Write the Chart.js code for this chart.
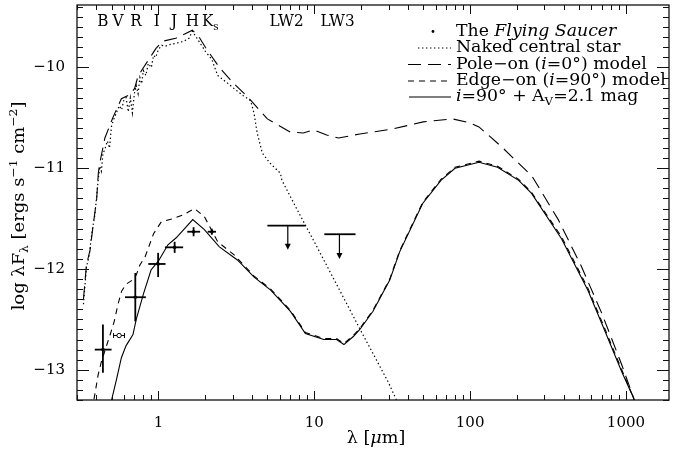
<!DOCTYPE html>
<html>
<head>
<meta charset="utf-8">
<script src="https://cdn.jsdelivr.net/npm/chart.js@4.4.1/dist/chart.umd.min.js"></script>
<style>
  html, body { margin: 0; padding: 0; background: #fff; }
  #wrap { width: 674px; height: 452px; }
</style>
</head>
<body>
<div id="wrap"><canvas id="sed" width="674" height="452"></canvas></div>
<script>
// wavelengths in micron, fluxes are log(lambda F_lambda)

// naked central star (dotted)
const starWave = [0.33, 0.345, 0.36, 0.375, 0.39, 0.40, 0.41, 0.42, 0.43, 0.44, 0.455, 0.47, 0.485, 0.50,
  0.52, 0.54, 0.56, 0.58, 0.60, 0.62, 0.64, 0.66, 0.68, 0.70, 0.72, 0.74, 0.76, 0.78, 0.80, 0.83, 0.86,
  0.90, 0.93, 0.96, 1.00, 1.05, 1.10, 1.20, 1.30, 1.45, 1.57, 1.65, 1.80, 2.00, 2.20, 2.40, 2.80, 3.06,
  3.50, 3.90, 4.10, 4.30, 4.64, 5.20, 6.06, 6.20, 8.0, 10, 15, 20, 25, 30, 36];
const starFlux = [-12.35, -11.98, -11.86, -11.62, -11.47, -11.30, -11.12, -10.98, -11.03, -10.86, -10.80, -10.73, -10.80, -10.58,
  -10.50, -10.44, -10.38, -10.42, -10.32, -10.30, -10.44, -10.30, -10.45, -10.26, -10.18, -10.26, -10.10, -10.16, -10.03, -10.08, -9.96,
  -10.00, -9.88, -9.90, -9.82, -9.78, -9.79, -9.77, -9.76, -9.74, -9.71, -9.64, -9.73, -9.84, -9.92, -10.08, -10.16, -10.21,
  -10.28, -10.33, -10.45, -10.65, -10.85, -10.95, -11.05, -11.12, -11.45, -11.73, -12.25, -12.62, -12.90, -13.13, -13.40];

// pole-on (i=0) model (long dashes)
const poleWave = [0.33, 0.345, 0.364, 0.382, 0.401, 0.411, 0.42, 0.453, 0.512, 0.578, 0.652, 0.702, 0.738, 0.794,
  0.919, 0.964, 1.06, 1.29, 1.65, 1.81, 2.0, 2.46, 3.0, 3.72, 5.0, 7.0, 8.5, 9.9, 12, 14.3, 19.6, 31.9, 50,
  77, 100, 114, 160, 250, 368, 520, 700, 940, 1120, 1200];
const poleFlux = [-12.30, -11.96, -11.81, -11.55, -11.31, -11.05, -10.95, -10.70, -10.49, -10.31, -10.27, -10.21, -10.09, -10.01,
  -9.86, -9.81, -9.74, -9.71, -9.63, -9.69, -9.80, -10.00, -10.15, -10.29, -10.51, -10.64, -10.65, -10.62, -10.67, -10.70, -10.66, -10.61, -10.54,
  -10.51, -10.55, -10.59, -10.79, -11.08, -11.51, -11.98, -12.44, -12.95, -13.28, -13.45];

// edge-on (i=90) model (short dashes)
const edgeWave = [0.375, 0.39, 0.41, 0.43, 0.46, 0.49, 0.52, 0.55, 0.58, 0.62, 0.68, 0.72, 0.76, 0.82, 0.93,
  1.045, 1.24, 1.45, 1.70, 1.97, 2.40, 3.06, 4.11, 5.25, 7.03, 8.77, 11.5, 13.9, 15.5, 17.8, 19.6, 23.8,
  30.5, 35.3, 49.6, 65, 80, 114, 150, 205, 248, 386, 570, 700, 940, 1120, 1160];
const edgeFlux = [-13.40, -13.25, -13.05, -12.92, -12.78, -12.65, -12.52, -12.35, -12.22, -12.15, -12.11, -12.06, -11.96, -11.88, -11.65,
  -11.53, -11.50, -11.46, -11.40, -11.48, -11.73, -11.86, -12.07, -12.20, -12.41, -12.63, -12.69, -12.69, -12.74, -12.66, -12.59, -12.41,
  -12.10, -11.82, -11.34, -11.11, -10.99, -10.93, -10.98, -11.11, -11.24, -11.68, -12.19, -12.52, -13.00, -13.28, -13.40];

// i=90 + Av=2.1 mag (solid)
const fitWave = [0.48, 0.50, 0.537, 0.578, 0.62, 0.686, 0.72, 0.80, 0.896, 1.0, 1.15, 1.30, 1.66, 1.97, 2.46,
  3.21, 4.11, 5.25, 7.03, 8.77, 11.5, 13.9, 15.5, 17.8, 19.6, 23.8, 30.5, 35.3, 49.6, 65, 80, 114, 150,
  205, 248, 386, 570, 700, 940, 1120, 1160];
const fitFlux = [-13.45, -13.30, -13.10, -12.88, -12.76, -12.65, -12.50, -12.25, -12.01, -11.92, -11.76, -11.69, -11.51, -11.61, -11.78,
  -11.91, -12.08, -12.21, -12.42, -12.64, -12.70, -12.70, -12.75, -12.67, -12.60, -12.42, -12.11, -11.83, -11.35, -11.12, -11.00, -10.94, -10.99,
  -11.12, -11.25, -11.70, -12.21, -12.54, -13.02, -13.28, -13.40];

// photometry of the Flying Saucer (B R I J H Ks) with error ranges
const obsWave   = [0.44, 0.71, 0.995, 1.27, 1.68, 2.20];
const obsFlux   = [-12.80, -12.28, -11.95, -11.785, -11.63, -11.63];
const obsWaveLo = [0.39, 0.61, 0.86, 1.10, 1.53, 2.07];
const obsWaveHi = [0.50, 0.83, 1.11, 1.44, 1.85, 2.34];
const obsFluxLo = [-13.03, -12.52, -12.08, -11.84, -11.675, -11.66];
const obsFluxHi = [-12.55, -12.04, -11.84, -11.73, -11.585, -11.60];

// V point (open circle)
const vWave = [0.559];
const vFlux = [-12.66];
const vWaveLo = [0.515];
const vWaveHi = [0.605];

// ISO LW2 / LW3 upper limits
const limWave = [6.76, 14.5];
const limWaveLo = [5.0, 11.6];
const limWaveHi = [8.77, 18.4];
const limFlux = [-11.57, -11.655];
const limArrowTo = [-11.81, -11.90];

// filter names along the top
const bandNames = ['B', 'V', 'R', 'I', 'J', 'H', 'K', 'LW2', 'LW3'];
const bandSub   = ['', '', '', '', '', '', 's', '', ''];
const bandWave  = [0.44, 0.55, 0.716, 0.974, 1.26, 1.65, 2.15, 6.64, 14.1];

// axis ticks
const xTickVals = [1, 10, 100, 1000];
const yTickVals = [-13, -12, -11, -10];

const FONT = '"DejaVu Serif", serif';

function xy(w, f) { return w.map((v, i) => ({ x: v, y: f[i] })); }

function runFont(r, size) {
  const s = (r.sub || r.sup) ? Math.round(size * 0.68) : size;
  return (r.it ? 'italic ' : '') + s + 'px ' + FONT;
}

// draw a line of mixed roman / italic / sub / superscript text, stretched by sx
function drawRuns(ctx, x, y, runs, size, align, sx) {
  ctx.save();
  ctx.translate(x, y);
  ctx.scale(sx, 1);
  ctx.fillStyle = '#000';
  ctx.textBaseline = 'middle';
  ctx.textAlign = 'left';
  let w = 0;
  runs.forEach(r => { ctx.font = runFont(r, size); w += ctx.measureText(r.t).width; });
  let cx = align === 'center' ? -w / 2 : 0;
  runs.forEach(r => {
    ctx.font = runFont(r, size);
    const dy = r.sub ? size * 0.32 : (r.sup ? -size * 0.38 : 0);
    ctx.fillText(r.t, cx, dy);
    cx += ctx.measureText(r.t).width;
  });
  ctx.restore();
}

function seg(ctx, x1, y1, x2, y2) {
  ctx.beginPath();
  ctx.moveTo(x1, y1);
  ctx.lineTo(x2, y2);
  ctx.stroke();
}

const legendRows = [
  { type: 'dot', runs: [{ t: 'The ' }, { t: 'Flying Saucer', it: true }] },
  { type: 'line', ds: 2, x0: 418, runs: [{ t: 'Naked central star' }] },
  { type: 'line', ds: 3, x0: 408, runs: [{ t: 'Pole\u2212on (' }, { t: 'i', it: true }, { t: '=0\u00b0) model' }] },
  { type: 'line', ds: 4, x0: 408, runs: [{ t: 'Edge\u2212on (' }, { t: 'i', it: true }, { t: '=90\u00b0) model' }] },
  { type: 'line', ds: 5, x0: 409, runs: [{ t: 'i', it: true }, { t: '=90\u00b0 + A' }, { t: 'V', sub: true }, { t: '=2.1 mag' }] }
];

const sedDecor = {
  id: 'sedDecor',
  beforeDraw(chart) {
    const ctx = chart.ctx;
    ctx.save();
    ctx.fillStyle = '#fff';
    ctx.fillRect(0, 0, chart.width, chart.height);
    ctx.restore();
  },
  beforeDatasetsDraw(chart) {
    const ctx = chart.ctx, xs = chart.scales.x, ys = chart.scales.y;
    ctx.save();
    ctx.strokeStyle = '#000';
    ctx.fillStyle = '#000';
    ctx.lineWidth = 1.8;
    // error bars
    obsWave.forEach((w, i) => {
      const px = xs.getPixelForValue(w), py = ys.getPixelForValue(obsFlux[i]);
      seg(ctx, xs.getPixelForValue(obsWaveLo[i]), py, xs.getPixelForValue(obsWaveHi[i]), py);
      seg(ctx, px, ys.getPixelForValue(obsFluxLo[i]), px, ys.getPixelForValue(obsFluxHi[i]));
    });
    ctx.lineWidth = 1;
    vWave.forEach((w, i) => {
      const py = ys.getPixelForValue(vFlux[i]);
      const x1 = xs.getPixelForValue(vWaveLo[i]), x2 = xs.getPixelForValue(vWaveHi[i]);
      seg(ctx, x1, py, x2, py);
      seg(ctx, x1, py - 2.5, x1, py + 2.5);
      seg(ctx, x2, py - 2.5, x2, py + 2.5);
    });
    // upper limits
    limWave.forEach((w, i) => {
      const px = xs.getPixelForValue(w), py = ys.getPixelForValue(limFlux[i]);
      const pe = ys.getPixelForValue(limArrowTo[i]);
      ctx.lineWidth = 1.8;
      seg(ctx, xs.getPixelForValue(limWaveLo[i]), py, xs.getPixelForValue(limWaveHi[i]), py);
      ctx.lineWidth = 1.2;
      seg(ctx, px, py, px, pe - 5);
      ctx.beginPath();
      ctx.moveTo(px - 3, pe - 6);
      ctx.lineTo(px + 3, pe - 6);
      ctx.lineTo(px, pe);
      ctx.closePath();
      ctx.fill();
    });
    ctx.restore();
  },
  afterDraw(chart) {
    const ctx = chart.ctx, xs = chart.scales.x, ys = chart.scales.y, a = chart.chartArea;
    ctx.save();
    ctx.strokeStyle = '#111';
    ctx.lineWidth = 1.3;
    ctx.strokeRect(a.left, a.top, a.right - a.left, a.bottom - a.top);
    ctx.lineWidth = 1;
    // log ticks along bottom and top
    for (let e = -1; e <= 3; e++) {
      for (let m = 1; m <= 9; m++) {
        const v = m * Math.pow(10, e);
        if (v < xs.min || v > xs.max) continue;
        const px = Math.round(xs.getPixelForValue(v)) + 0.5;
        const len = m === 1 ? 9 : 5;
        seg(ctx, px, a.bottom, px, a.bottom - len);
        seg(ctx, px, a.top, px, a.top + len);
      }
    }
    // linear ticks left and right
    for (let k = Math.ceil(ys.min * 10); k <= Math.floor(ys.max * 10); k++) {
      const py = Math.round(ys.getPixelForValue(k / 10)) + 0.5;
      const len = k % 10 === 0 ? 12 : 6;
      seg(ctx, a.left, py, a.left + len, py);
      seg(ctx, a.right, py, a.right - len, py);
    }
    // tick labels
    ctx.fillStyle = '#000';
    ctx.font = '15px ' + FONT;
    ctx.textBaseline = 'middle';
    ctx.textAlign = 'center';
    xTickVals.forEach(v => ctx.fillText(String(v), xs.getPixelForValue(v), a.bottom + 23));
    ctx.textAlign = 'right';
    yTickVals.forEach(v => ctx.fillText((v < 0 ? '\u2212' : '') + Math.abs(v), a.left - 12, ys.getPixelForValue(v)));
    // filter labels
    bandNames.forEach((n, i) => {
      const runs = [{ t: n }];
      if (bandSub[i]) runs.push({ t: bandSub[i], sub: true });
      drawRuns(ctx, xs.getPixelForValue(bandWave[i]), 22, runs, 16, 'center', 0.95);
    });
    // legend
    const rowY = [31.5, 48, 64.5, 81, 97];
    legendRows.forEach((row, i) => {
      const y = rowY[i];
      if (row.type === 'dot') {
        ctx.beginPath();
        ctx.arc(433, y, 1.4, 0, Math.PI * 2);
        ctx.fillStyle = '#000';
        ctx.fill();
      } else {
        const ds = chart.data.datasets[row.ds];
        ctx.save();
        ctx.lineWidth = ds.borderWidth;
        ctx.strokeStyle = ds.borderColor;
        ctx.setLineDash(ds.borderDash || []);
        seg(ctx, row.x0, y, 451, y);
        ctx.restore();
      }
      drawRuns(ctx, 456, y, row.runs, 16, 'left', 1.08);
    });
    // axis titles
    drawRuns(ctx, 376, 439, [{ t: '\u03bb [' }, { t: '\u03bc', it: true }, { t: 'm]' }], 16, 'center', 1.1);
    ctx.save();
    ctx.translate(20, 206);
    ctx.rotate(-Math.PI / 2);
    drawRuns(ctx, 0, 0, [{ t: 'log \u03bbF' }, { t: '\u03bb', sub: true }, { t: ' [ergs s' }, { t: '\u22121', sup: true },
      { t: ' cm' }, { t: '\u22122', sup: true }, { t: ']' }], 16, 'center', 1.12);
    ctx.restore();
    ctx.restore();
  }
};

function fixBox(w, h) {
  return s => {
    if (w) s.width = w;
    if (h) s.height = h;
    s.paddingTop = 0; s.paddingBottom = 0; s.paddingLeft = 0; s.paddingRight = 0;
  };
}

new Chart(document.getElementById('sed'), {
  data: {
    datasets: [
      { type: 'scatter', label: 'The Flying Saucer', data: xy(obsWave, obsFlux), pointRadius: 1.8,
        backgroundColor: '#000', borderColor: '#000', borderWidth: 0 },
      { type: 'scatter', label: 'V', data: xy(vWave, vFlux), pointRadius: 2.2,
        backgroundColor: '#fff', borderColor: '#000', borderWidth: 1 },
      { type: 'line', label: 'Naked central star', data: xy(starWave, starFlux), borderColor: '#000',
        borderWidth: 1.2, borderDash: [1.4, 2.6], pointRadius: 0, tension: 0, fill: false },
      { type: 'line', label: 'Pole-on (i=0) model', data: xy(poleWave, poleFlux), borderColor: '#000',
        borderWidth: 1.1, borderDash: [13, 7], pointRadius: 0, tension: 0, fill: false },
      { type: 'line', label: 'Edge-on (i=90) model', data: xy(edgeWave, edgeFlux), borderColor: '#000',
        borderWidth: 1.1, borderDash: [6, 5], pointRadius: 0, tension: 0, fill: false },
      { type: 'line', label: 'i=90 + Av=2.1 mag', data: xy(fitWave, fitFlux), borderColor: '#000',
        borderWidth: 1.1, pointRadius: 0, tension: 0, fill: false }
    ]
  },
  options: {
    responsive: false,
    animation: false,
    layout: { padding: { top: 5, right: 2, left: 0, bottom: 0 } },
    plugins: { legend: { display: false }, tooltip: { enabled: false } },
    scales: {
      x: {
        type: 'logarithmic',
        min: 0.307,
        max: 1890,
        grid: { display: false, drawTicks: false },
        border: { display: false },
        afterBuildTicks: s => { s.ticks = xTickVals.map(v => ({ value: v })); },
        afterFit: fixBox(0, 52),
        ticks: { display: false }
      },
      y: {
        type: 'linear',
        min: -13.30,
        max: -9.38,
        grid: { display: false, drawTicks: false },
        border: { display: false },
        afterBuildTicks: s => { s.ticks = yTickVals.map(v => ({ value: v })); },
        afterFit: fixBox(77, 0),
        ticks: { display: false }
      }
    }
  },
  plugins: [sedDecor]
});
</script>
</body>
</html>
